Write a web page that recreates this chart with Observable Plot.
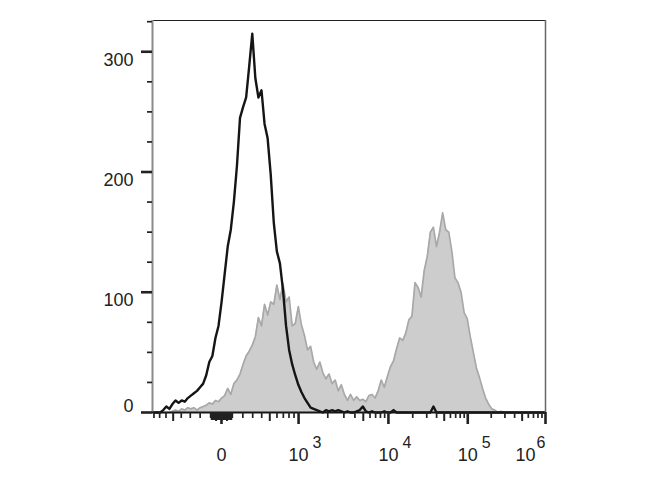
<!DOCTYPE html>
<html><head><meta charset="utf-8">
<script src="https://cdn.jsdelivr.net/npm/d3@7"></script>
<script src="https://cdn.jsdelivr.net/npm/@observablehq/plot@0.6"></script>
<style>body{margin:0;background:#fff}</style>
</head><body><div id="chart"></div>
<script>
// ---- data: histogram counts per display channel (128 channels across the logicle axis)
const nChannels = 128;
const isotypeCounts = [
  0,0,0,2,5,3,7,10,8,10,
  9,12,14,16,18,21,24,31,42,47,
  62,72,92,115,138,152,175,205,245,254,
  262,288,315,278,262,268,240,228,198,158,
  134,124,102,72,52,40,31,23,17,12,
  8,4,3,2,1,0,2,1,2,1,
  2,1,0,1,0,0,1,2,5,1,
  0,1,0,0,0,1,0,0,2,0,
  0,0,0,0,0,0,0,0,0,0,
  0,5,0,0,0,0,0,0,0,0,
  0,0,0,0,0,0,0,0,0,0,
  0,0,0,0,0,0,0,0,0,0,
  0,0,0,0,0,0,0,0
];
const stainedCounts = [
  0,0,0,0,0,0,1,2,1,3,
  2,4,3,4,2,4,5,6,8,7,
  10,9,12,14,20,15,24,27,32,40,
  47,51,56,63,79,72,90,81,92,90,
  106,94,107,92,96,72,74,88,73,64,
  52,55,42,36,42,33,28,32,24,27,
  18,23,15,10,15,10,13,10,11,9,
  14,15,12,18,27,21,30,38,43,53,
  62,60,66,77,80,108,104,96,118,130,
  150,154,138,150,166,152,150,134,112,108,
  100,83,78,63,50,37,29,20,12,7,
  3,2,0,1,0,0,0,0,0,0,
  0,0,0,0,0,0,0,0
];
const yMax = 326;
const yTicks = [0, 100, 200, 300];
const yMinorTicks = [25, 50, 75, 125, 150, 175, 225, 250, 275, 325];
const xDecades = [1e3, 1e4, 1e5, 1e6];
const xExponents = ["3", "4", "5", "6"];
const tickDecadeBases = [10, 100, 1e3, 1e4, 1e5];
const tickMultipliers = [1, 2, 3, 4, 5, 6, 7, 8, 9];
// logicle (biexponential) display parameters
const logicleT = 1e6, logicleW = 0.89, logicleM = 5.07, logicleA = 0;

function makeLogicle(T, W, M, A) {
  const w = W / (M + A), x2 = A / (M + A), x1 = x2 + w, x0 = x2 + 2 * w;
  const b = (M + A) * Math.LN10;
  let lo = 1e-9, hi = b;
  for (let i = 0; i < 200; i++) {
    const m = (lo + hi) / 2;
    const g = 2 * (Math.log(m) - Math.log(b)) + w * (b + m);
    if (g > 0) hi = m; else lo = m;
  }
  const d = (lo + hi) / 2;
  const ca = Math.exp(x0 * (b + d));
  const mfa = Math.exp(b * x1) - ca / Math.exp(d * x1);
  const a = T / ((Math.exp(b) - mfa) - ca / Math.exp(d));
  const c = ca * a, f = -mfa * a;
  const Spos = y => a * Math.exp(b * y) - c * Math.exp(-d * y) + f;
  const S = y => (y >= x1 ? Spos(y) : -Spos(2 * x1 - y));
  const inv = v => {
    let l = -1, h = 2;
    for (let i = 0; i < 80; i++) { const m = (l + h) / 2; if (S(m) < v) l = m; else h = m; }
    return (l + h) / 2;
  };
  return {S, inv};
}
const logicle = makeLogicle(logicleT, logicleW, logicleM, logicleA);
const chan = v => logicle.inv(v) * nChannels;
const minValue = logicle.S(0);

// tick values
const allTicks = [];
for (const base of tickDecadeBases) for (const m of tickMultipliers) { allTicks.push(m * base); allTicks.push(-m * base); }
const inRange = v => v >= minValue && v <= logicleT * 1.0001;
const majorTickValues = [0, ...xDecades].filter(inRange);
const isMajor = v => majorTickValues.includes(v);
const isMedium = v => !isMajor(v) && Math.abs(v) / Math.pow(10, Math.floor(Math.log10(Math.abs(v)))) === 5;
const isLinearZone = v => Math.abs(v) < 100;
const tickVals = allTicks.filter(inRange);
const minorCh = tickVals.filter(v => !isMajor(v) && !isMedium(v) && !isLinearZone(v)).map(chan);
const nearZeroCh = tickVals.filter(v => isLinearZone(v) && !isMedium(v)).map(chan);
const mediumCh = tickVals.filter(isMedium).map(chan);
const majorCh = majorTickValues.map(chan);

const table = isotypeCounts.map((n, i) => ({ch: i + 0.5, iso: n, stained: stainedCounts[i]}));
const labels = xDecades.map((v, i) => ({value: v, exp: xExponents[i]}));
const inner = labels.filter(d => d.value < 1e6);
const last = labels.filter(d => d.value >= 1e6);

const ink = "#222";
const font = {fontSize: 18, fill: ink};
const supFont = {fontSize: 16, fill: ink};

const chart = Plot.plot({
  width: 670, height: 500,
  marginLeft: 152, marginRight: 125, marginTop: 20, marginBottom: 88,
  style: {fontFamily: "Arial, 'Liberation Sans', Helvetica, sans-serif", background: "#fff", overflow: "visible"},
  x: {domain: [0, nChannels], axis: null},
  y: {domain: [0, yMax], axis: null},
  marks: [
    Plot.areaY(table, {x: "ch", y: "stained", fill: "#cdcdcd"}),
    Plot.lineY(table, {x: "ch", y: "stained", stroke: "#a8a8a8", strokeWidth: 1.7}),
    Plot.lineY(table, {x: "ch", y: "iso", stroke: "#151515", strokeWidth: 2.4}),
    Plot.ruleY([yMax], {stroke: "#222", strokeWidth: 1}),
    Plot.ruleX([nChannels], {stroke: "#666", strokeWidth: 1.5}),
    Plot.ruleX([0], {stroke: "#8a8a8a", strokeWidth: 2}),
    Plot.ruleY([0], {stroke: "#151515", strokeWidth: 2}),
    // x ticks
    Plot.axisX(minorCh, {tickSize: 6, tickFormat: () => "", stroke: ink, strokeWidth: 1.7, label: null}),
    Plot.axisX(nearZeroCh, {tickSize: 8, tickFormat: () => "", stroke: ink, strokeWidth: 2, label: null}),
    Plot.axisX(mediumCh, {tickSize: 9, tickFormat: () => "", stroke: ink, strokeWidth: 2, label: null}),
    Plot.axisX(majorCh, {tickSize: 12, tickFormat: () => "", stroke: ink, strokeWidth: 2.6, label: null}),
    // y ticks
    Plot.axisY(yMinorTicks, {tickSize: 5, tickFormat: () => "", stroke: ink, strokeWidth: 1.7, label: null}),
    Plot.axisY(yTicks, {tickSize: 11, tickFormat: () => "", stroke: ink, strokeWidth: 2.6, label: null}),
    // y labels
    Plot.text(yTicks.filter(v => v > 0), {y: d => d, text: d => String(d), frameAnchor: "left", textAnchor: "end", dx: -19, dy: 8, ...font}),
    Plot.text(yTicks.filter(v => v === 0), {y: d => d, text: d => String(d), frameAnchor: "left", textAnchor: "end", dx: -19, dy: -6, ...font}),
    // x labels
    Plot.text([0], {x: d => chan(d), text: d => String(d), frameAnchor: "bottom", dy: 48, ...font}),
    Plot.text(inner, {x: d => chan(d.value), text: () => "10", frameAnchor: "bottom", dy: 48, ...font}),
    Plot.text(inner, {x: d => chan(d.value), text: "exp", frameAnchor: "bottom", textAnchor: "start", dx: 14, dy: 35, ...supFont}),
    Plot.text(last, {x: d => chan(d.value), text: () => "10", frameAnchor: "bottom", dx: -20, dy: 48, ...font}),
    Plot.text(last, {x: d => chan(d.value), text: "exp", frameAnchor: "bottom", textAnchor: "start", dx: -9, dy: 35, ...supFont})
  ]
});
document.getElementById("chart").appendChild(chart);
</script>
</body></html>
